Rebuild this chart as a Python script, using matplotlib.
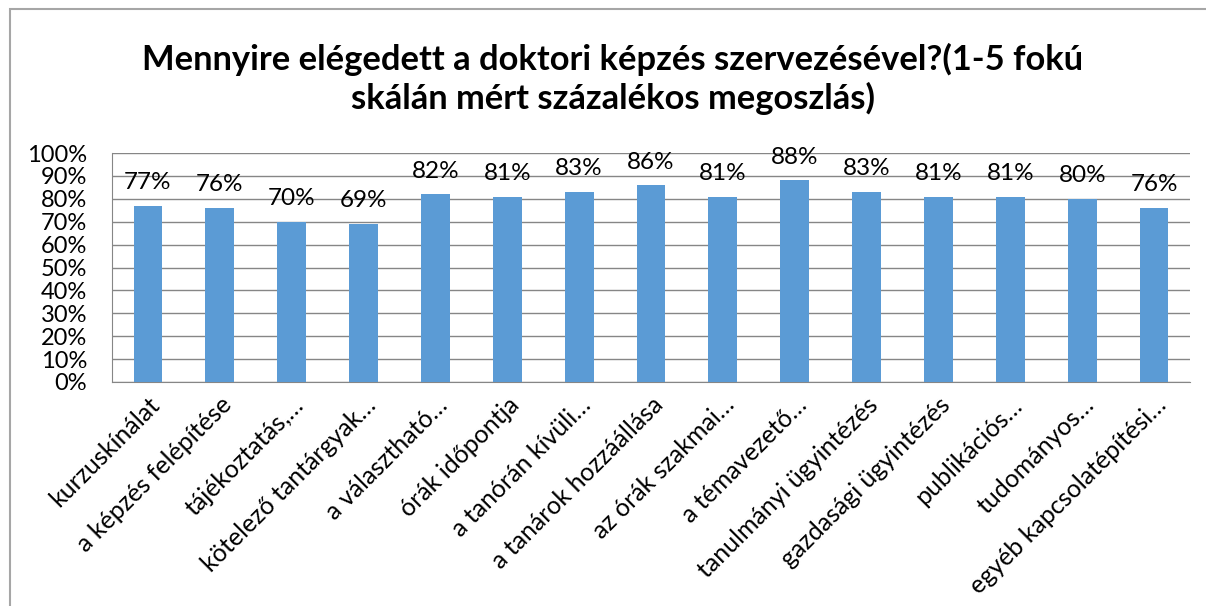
import matplotlib
matplotlib.use("Agg")
import matplotlib.pyplot as plt
from matplotlib.patches import Rectangle
from matplotlib.ticker import PercentFormatter

categories = ["kurzuskínálat", "a képzés felépítése", "tájékoztatás,…",
              "kötelező tantárgyak…", "a választható…", "órák időpontja",
              "a tanórán kívüli…", "a tanárok hozzáállása", "az órák szakmai…",
              "a témavezető…", "tanulmányi ügyintézés", "gazdasági ügyintézés",
              "publikációs…", "tudományos…", "egyéb kapcsolatépítési…"]
values = [77, 76, 70, 69, 82, 81, 83, 86, 81, 88, 83, 81, 81, 80, 76]
title = "Mennyire elégedett a doktori képzés szervezésével?(1-5 fokú\nskálán mért százalékos megoszlás)"

plt.rcParams['font.family'] = ['Lato', 'DejaVu Sans']

fig = plt.figure(figsize=(12.06, 6.06), dpi=100)
fig.patches.append(Rectangle((10/1206, -0.1), 1.2, 1 - 9/606 + 0.1, transform=fig.transFigure,
                             fill=False, edgecolor='#a6a6a6', linewidth=1.5))

ax = fig.add_axes([112/1206, 1 - 382/606, (1190-112)/1206, (382-153)/606])
x = list(range(len(categories)))
bars = ax.bar(x, values, width=0.4, color='#5b9bd5', zorder=3)
for xi, v in zip(x, values):
    ax.annotate(f"{v}%", (xi, v), xytext=(0, 9), textcoords='offset points',
                ha='center', va='bottom', fontsize=17.5, color='black', zorder=4)

ax.set_ylim(0, 100)
ax.set_xlim(-0.5, len(categories) - 0.5)
ax.set_yticks(range(0, 101, 10))
ax.yaxis.set_major_formatter(PercentFormatter(decimals=0))
ax.grid(axis='y', color='#868686', linewidth=1, zorder=0)
for s in ['top', 'right']:
    ax.spines[s].set_visible(False)
for s in ['left', 'bottom']:
    ax.spines[s].set_color('#868686')
ax.tick_params(axis='y', length=0, pad=18, labelsize=17)
ax.tick_params(axis='x', length=0, pad=8, labelsize=18)
ax.set_xticks(x)
ax.set_xticklabels(categories, rotation=45, ha='right', rotation_mode='anchor')

fig.text(0.508, 1 - 79/606, title, ha='center', va='center', fontsize=24.8,
         fontweight='bold', linespacing=1.2)

fig.savefig("out.png", dpi=100)
